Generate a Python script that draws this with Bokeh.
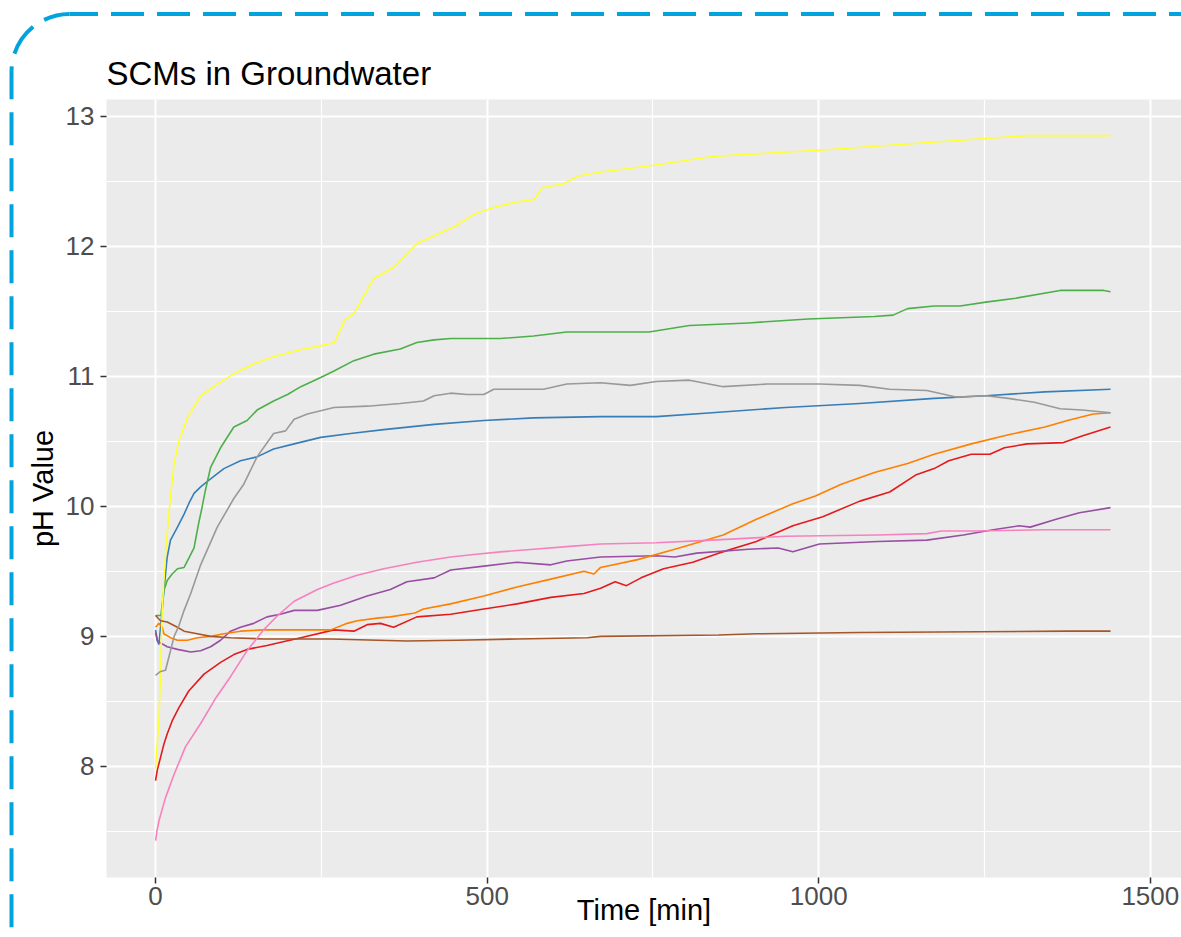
import urllib.parse
from bokeh.plotting import figure
from bokeh.models import FixedTicker, InlineStyleSheet
from bokeh.embed import file_html
from bokeh.resources import INLINE

# ---------------- data ----------------
time_red = [0, 2.5, 7.5, 12.5, 17.5, 25, 35, 50, 73, 98, 118, 138, 168, 194, 219, 269, 299, 319, 339, 359,
            394, 445, 495, 545, 596, 646, 671, 693, 710, 732, 766, 810, 849, 906, 961, 1006, 1062, 1107, 1146, 1174,
            1196, 1230, 1258, 1280, 1314, 1369, 1397, 1440]
ph_red = [7.89, 7.97, 8.07, 8.17, 8.25, 8.35, 8.45, 8.58, 8.71, 8.80, 8.86, 8.90, 8.93, 8.96, 8.99, 9.05, 9.04, 9.09, 9.10, 9.07,
          9.15, 9.17, 9.21, 9.25, 9.30, 9.33, 9.37, 9.42, 9.39, 9.45, 9.52, 9.57, 9.64, 9.73, 9.85, 9.92, 10.04, 10.11, 10.24, 10.29,
          10.35, 10.40, 10.40, 10.45, 10.48, 10.49, 10.54, 10.61]

time_blue = [0, 3, 5, 8.5, 12.5, 17.5, 22.5, 33, 43, 50, 58, 68, 80, 103, 128, 153, 178, 209, 249, 294,
             344, 420, 495, 570, 671, 755, 839, 950, 1062, 1174, 1252, 1341, 1440]
ph_blue = [9.05, 8.96, 8.94, 9.12, 9.35, 9.61, 9.74, 9.84, 9.94, 10.02, 10.10, 10.15, 10.20, 10.29, 10.35, 10.38, 10.44, 10.48, 10.53, 10.56,
           10.59, 10.63, 10.66, 10.68, 10.69, 10.69, 10.72, 10.76, 10.79, 10.83, 10.85, 10.88, 10.90]

time_green = [0, 8, 12.5, 17.5, 25, 33, 43, 50, 58, 65, 70, 75, 83, 98, 118, 138, 153, 178, 199, 219,
              249, 269, 299, 329, 369, 394, 420, 445, 520, 570, 620, 744, 805, 894, 984, 1084, 1112, 1134, 1174, 1213,
              1252, 1297, 1364, 1430, 1440]
ph_green = [9.16, 9.16, 9.35, 9.43, 9.48, 9.52, 9.53, 9.60, 9.68, 9.87, 9.99, 10.12, 10.30, 10.45, 10.61, 10.66, 10.74, 10.81, 10.86, 10.92,
            10.99, 11.04, 11.12, 11.17, 11.21, 11.26, 11.28, 11.29, 11.29, 11.31, 11.34, 11.34, 11.39, 11.41, 11.44, 11.46, 11.47, 11.52, 11.54, 11.54,
            11.57, 11.60, 11.66, 11.66, 11.65]

time_purple = [0, 2.5, 7.5, 17.5, 33, 53, 68, 83, 98, 113, 128, 148, 168, 188, 209, 244, 279, 319, 354, 379,
               420, 445, 495, 545, 596, 620, 671, 755, 783, 816, 894, 939, 961, 1001, 1089, 1163, 1218, 1263, 1302, 1319,
               1358, 1393, 1440]
ph_purple = [9.03, 8.97, 8.95, 8.92, 8.90, 8.88, 8.89, 8.92, 8.97, 9.04, 9.07, 9.10, 9.15, 9.17, 9.20, 9.20, 9.24, 9.31, 9.36, 9.42,
             9.45, 9.51, 9.54, 9.57, 9.55, 9.58, 9.61, 9.62, 9.61, 9.64, 9.67, 9.68, 9.65, 9.71, 9.73, 9.74, 9.78, 9.82, 9.85, 9.84,
             9.90, 9.95, 9.99]

time_orange = [0, 5, 10, 12.5, 22.5, 33, 48, 63, 83, 103, 128, 163, 264, 289, 304, 334, 354, 391, 404, 445,
               495, 545, 596, 646, 661, 671, 727, 783, 856, 906, 961, 995, 1034, 1084, 1134, 1174, 1230, 1286, 1341, 1375,
               1414, 1440]
ph_orange = [9.07, 9.10, 9.07, 9.02, 8.99, 8.97, 8.97, 8.99, 9.00, 9.02, 9.04, 9.05, 9.05, 9.10, 9.12, 9.14, 9.15, 9.18, 9.21, 9.25,
             9.31, 9.38, 9.44, 9.50, 9.48, 9.53, 9.59, 9.67, 9.78, 9.90, 10.02, 10.08, 10.17, 10.26, 10.33, 10.40, 10.48, 10.55, 10.61, 10.66,
             10.71, 10.72]

time_yellow = [0, 2, 5, 7, 10, 12.5, 16, 20, 24, 28, 35, 48, 68, 93, 118, 150, 178, 215, 245, 270,
               285, 300, 314, 329, 360, 380, 394, 416, 450, 482, 511, 545, 571, 583, 615, 638, 671, 749, 839, 939,
               1006, 1118, 1230, 1314, 1440]
ph_yellow = [7.98, 8.15, 8.35, 8.65, 9.20, 9.43, 9.70, 9.94, 10.15, 10.33, 10.50, 10.68, 10.85, 10.94, 11.02, 11.10, 11.15, 11.20, 11.23, 11.26,
             11.43, 11.49, 11.62, 11.75, 11.84, 11.95, 12.02, 12.07, 12.15, 12.25, 12.30, 12.34, 12.36, 12.45, 12.48, 12.54, 12.57, 12.62, 12.69, 12.72,
             12.74, 12.78, 12.82, 12.85, 12.85]

time_brown = [0, 7.5, 17.5, 33, 43, 63, 83, 113, 163, 264, 379, 455, 545, 651, 671, 849, 906, 1062, 1375, 1440]
ph_brown = [9.16, 9.12, 9.11, 9.07, 9.04, 9.02, 9.00, 8.99, 8.98, 8.98, 8.965, 8.97, 8.98, 8.99, 9.00, 9.01, 9.02, 9.03, 9.04, 9.04]

time_pink = [0, 2, 5, 15, 28, 45, 68, 90, 113, 138, 163, 184, 209, 244, 269, 304, 344, 394, 445, 480,
             520, 570, 620, 671, 755, 839, 950, 1089, 1163, 1185, 1230, 1341, 1440]
ph_pink = [7.43, 7.50, 7.58, 7.76, 7.94, 8.15, 8.33, 8.52, 8.69, 8.89, 9.05, 9.16, 9.27, 9.36, 9.41, 9.47, 9.52, 9.57, 9.61, 9.63,
           9.65, 9.67, 9.69, 9.71, 9.72, 9.74, 9.77, 9.78, 9.79, 9.81, 9.81, 9.82, 9.82]

time_gray = [0, 7.5, 15, 20, 28, 35, 43, 53, 68, 93, 118, 133, 153, 178, 196, 209, 229, 269, 319, 369,
             404, 420, 445, 470, 495, 510, 545, 585, 620, 671, 716, 755, 805, 856, 922, 1001, 1062, 1107, 1163, 1207,
             1252, 1286, 1325, 1364, 1397, 1440]
ph_gray = [8.70, 8.73, 8.74, 8.84, 9.00, 9.08, 9.20, 9.33, 9.55, 9.84, 10.06, 10.17, 10.38, 10.56, 10.58, 10.67, 10.71, 10.76, 10.77, 10.79,
           10.81, 10.85, 10.87, 10.86, 10.86, 10.90, 10.90, 10.90, 10.94, 10.95, 10.93, 10.96, 10.97, 10.92, 10.94, 10.94, 10.93, 10.90, 10.89, 10.84,
           10.85, 10.83, 10.80, 10.75, 10.74, 10.72]

series = [
    (time_red, ph_red, "#E41A1C"),
    (time_blue, ph_blue, "#377EB8"),
    (time_green, ph_green, "#4DAF4A"),
    (time_purple, ph_purple, "#984EA3"),
    (time_orange, ph_orange, "#FF7F00"),
    (time_yellow, ph_yellow, "#FFFF33"),
    (time_brown, ph_brown, "#A65628"),
    (time_pink, ph_pink, "#F781BF"),
    (time_gray, ph_gray, "#999999"),
]

x_ticks = [0, 500, 1000, 1500]
x_minor = [-250, 250, 750, 1250, 1750]
y_ticks = [8, 9, 10, 11, 12, 13]
y_minor = [7.5, 8.5, 9.5, 10.5, 11.5, 12.5]

title_text = "SCMs in Groundwater"
x_title = "Time [min]"
y_title = "pH Value"

# ---------------- layout ----------------
W, H = 1181, 937
FL, FT, FB = 106, 99, 877          # plot frame edges in page pixels
X0, X1 = -74, 1547
Y0, Y1 = 7.146, 13.128
FONT = "Liberation Sans"

p = figure(width=W, height=H, x_range=(X0, X1), y_range=(Y0, Y1),
           output_backend="svg", toolbar_location=None,
           min_border_left=FL, min_border_right=0, min_border_top=FT, min_border_bottom=H - FB)

p.background_fill_color = "#EBEBEB"
p.border_fill_color = "white"
p.outline_line_color = None

p.title.text = title_text
p.title.text_font = FONT
p.title.text_font_size = "33px"
p.title.text_font_style = "normal"
p.title.text_color = "black"
p.title.align = "left"
p.title.standoff = 15

p.xaxis.ticker = FixedTicker(ticks=x_ticks, minor_ticks=x_minor)
p.yaxis.ticker = FixedTicker(ticks=y_ticks, minor_ticks=y_minor)

for ax in (p.xaxis, p.yaxis):
    ax.axis_line_color = None
    ax.major_tick_line_color = "#333333"
    ax.major_tick_line_width = 1.5
    ax.major_tick_out = 6
    ax.major_tick_in = 0
    ax.minor_tick_line_color = None
    ax.major_label_text_font = FONT
    ax.major_label_text_font_size = "26px"
    ax.major_label_text_color = "#4D4D4D"
    ax.axis_label_text_font = FONT
    ax.axis_label_text_font_size = "29px"
    ax.axis_label_text_font_style = "normal"
    ax.axis_label_text_color = "black"

p.xaxis.major_label_standoff = 3
p.xaxis.axis_label = x_title
p.xaxis.axis_label_standoff = -14
p.yaxis.major_label_standoff = 6
p.yaxis.axis_label = y_title
p.yaxis.axis_label_standoff = 4

for g in (p.xgrid, p.ygrid):
    g.grid_line_color = "white"
    g.grid_line_width = 2
    g.minor_grid_line_color = "white"
    g.minor_grid_line_width = 1.2

for t, v, c in series:
    p.line(t, v, line_color=c, line_width=1.6, line_join="round")

# dashed rounded decorative frame (page decoration drawn over the figure via CSS)
border_svg = (
    "<svg xmlns='http://www.w3.org/2000/svg' width='%d' height='%d'>"
    "<g fill='none' stroke='#00A3DE' stroke-width='4' stroke-dasharray='33 13'>"
    "<path d='M11.5 973.3 L11.5 72 A58 58 0 0 1 69.5 14'/>"
    "<path d='M69.5 14 L1300 14' stroke-dashoffset='4.5'/>"
    "</g></svg>" % (W, H)
)
url = "data:image/svg+xml," + urllib.parse.quote(border_svg)
css = (
    ":host { position: relative; }\n"
    ":host::after { content: ''; position: absolute; left: 0; top: 0; "
    "width: %dpx; height: %dpx; pointer-events: none; z-index: 10; "
    "background: url(\"%s\") no-repeat; }" % (W, H, url)
)
p.stylesheets = [InlineStyleSheet(css=css)]

open("out.html", "w").write(file_html(p, INLINE))
